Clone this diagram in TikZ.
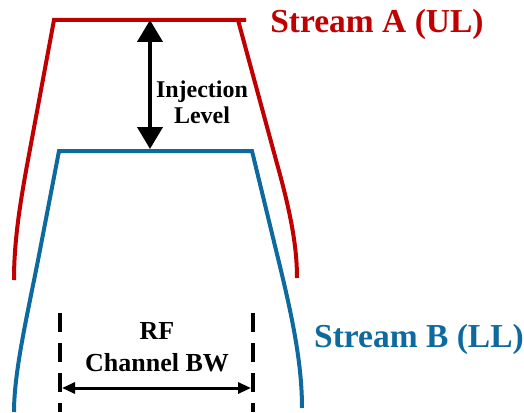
\documentclass[tikz,border=0pt]{standalone}
\usepackage{fontspec}
\setmainfont{Liberation Serif}
\usepackage{tikz}
\usetikzlibrary{arrows.meta}
\definecolor{streamred}{RGB}{192,0,0}
\definecolor{streamblue}{RGB}{14,106,158}

\begin{document}
\begin{tikzpicture}[x=1pt,y=-1pt,
	every node/.style={inner sep=0pt},
	streamA/.style={draw=streamred,line width=4pt},
	streamB/.style={draw=streamblue,line width=4pt},
	levelarrow/.style={line width=4pt,{Triangle[length=22pt,width=25pt]}-{Triangle[length=22pt,width=25pt]}},
	bwarrow/.style={line width=3pt,{Triangle[length=13pt,width=11pt]}-{Triangle[length=13pt,width=11pt]}},
	bwedge/.style={line width=4pt,dash pattern=on 19pt off 11pt}]
	\useasboundingbox (0,0) rectangle (524,412);
	
	\draw[streamA] (14,280) .. controls (14,245) and (18.7,210) .. (28,160) -- (54,20) -- (246,20);
	\draw[streamA] (238,20) -- (276,160) .. controls (290,210) and (297,245) .. (297,278);
	\draw[streamB] (14,412) .. controls (14,370) and (28.5,310) .. (40,250) -- (59,151) -- (252,151)
		-- (276,250) .. controls (290.7,310) and (302,360) .. (302,408);
	
	\coordinate (atop) at (150,20);
	\coordinate (btop) at (150,149);
	\draw[levelarrow] (atop) -- (btop);
	\node (level) [align=center,font=\bfseries\fontsize{24}{26}\selectfont] at (202,102) {Injection\\Level};
	
	\coordinate (edgeL) at (60,313);
	\coordinate (edgeLend) at (60,412);
	\coordinate (edgeR) at (253,313);
	\coordinate (edgeRend) at (253,412);
	\draw[bwedge] (edgeL) -- (edgeLend);
	\draw[bwedge] (edgeR) -- (edgeRend);
	\coordinate (bwleft) at (62,388);
	\coordinate (bwright) at (251,388);
	\draw[bwarrow] (bwleft) -- (bwright);
	\node (bw) [align=center,font=\bfseries\fontsize{26}{32}\selectfont] at (157,347) {RF\\Channel BW};
	
	\node (streamAlabel) [anchor=base,text=streamred,font=\bfseries\fontsize{33.5}{40}\selectfont] at (377,33) {Stream A (UL)};
	\node (streamBlabel) [anchor=base,text=streamblue,font=\bfseries\fontsize{33.5}{40}\selectfont] at (419,347) {Stream B (LL)};
\end{tikzpicture}
\end{document}
